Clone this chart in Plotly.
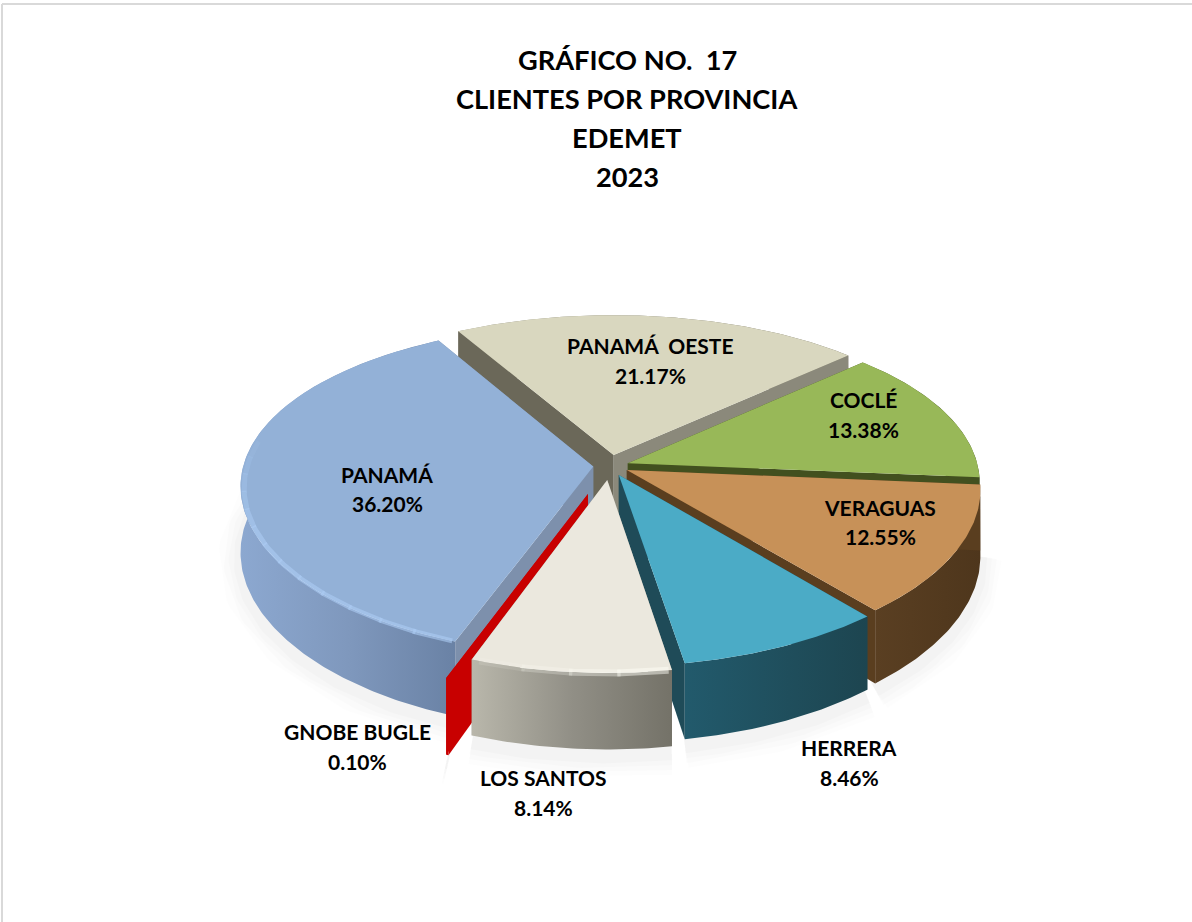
import math
import plotly.graph_objects as go

# ---- data ----
PROVINCIAS = ["PANAMÁ  OESTE", "COCLÉ", "VERAGUAS", "HERRERA", "LOS SANTOS", "GNOBE BUGLE", "PANAMÁ"]
PORCENTAJES = [21.17, 13.38, 12.55, 8.46, 8.14, 0.10, 36.20]
TITULO = ["GRÁFICO NO.  17", "CLIENTES POR PROVINCIA", "EDEMET", "2023"]

# ---- style ----
TOP = ["#D9D7BF", "#98B858", "#C79158", "#4BABC6", "#EBE8DE", "#C80000", "#93B1D7"]
FACE_START = ["#6B6859", "#42501F", "#5A3E1F", "#1F4B58", "#8F8D83", "#C80000", "#7D90AC"]
FACE_END = ["#8B897B", "#42501F", "#5A3E1F", "#1F4B58", "#8F8D83", "#C80000", "#7D90AC"]
WALL = [
    ["#8B897B", "#6B6859"],
    ["#42501F", "#42501F"],
    ["#5A3F22", "#4E361C"],
    ["#225A6C", "#1D4550"],
    ["#B9B7AB", "#918F86", "#747268"],
    ["#C80000", "#C80000"],
    ["#8CA8D0", "#7F98BD", "#6A82A5"],
]
WALL_FIRST = [True, True, True, False, False, True, False]
RIM = [None, None, None, None, (255, 254, 246), None, (172, 204, 244)]
RIM_SPAN = [None, None, None, None, (171, 199), None, (201, 280)]
RIM_WIDTH = [0, 0, 0, 0, 7, 0, 5]
EXPLODE = [0.07, 0.054, 0.054, 0.06, 0.085, 0.18, 0.048]
DRAW_ORDER = [0, 1, 2, 6, 3, 5, 4]
START_ANGLE = 330.6
CX, CY, RX, RY, PERSP_X, PERSP_Y, DEPTH = 610.0, 466.0, 350.0, 162.0, 0.115, 0.139, 65.0
LABEL_POS = [(650, 345, 375), (863, 399, 429), (880, 507, 536), (849, 747, 777),
             (543, 777, 807), (357, 731, 761), (387, 474, 503)]
TITLE_POS = [(627, 59), (627, 98), (627, 137), (627, 176)]
FONT = "Lato"


def project(X, Y, drop=0.0):
    sx = 1.0 / (1.0 + PERSP_X * Y)
    sy = 1.0 / (1.0 + PERSP_Y * Y)
    return CX + RX * X * sx, CY - RY * Y * sy + drop * sy


def rim_point(a, ex, ey, r=1.0):
    t = math.radians(a)
    return ex + r * math.sin(t), ey + r * math.cos(t)


def arc(a0, a1, ex, ey, drop=0.0, r=1.0):
    n = max(2, int(abs(a1 - a0) * 1.5))
    pts = [project(*rim_point(a0 + (a1 - a0) * i / n, ex, ey, r), drop) for i in range(n + 1)]
    return [p[0] for p in pts], [p[1] for p in pts]


fig = go.Figure()


def poly(xs, ys, fill=None, grad=None):
    kw = dict(x=xs + xs[:1], y=ys + ys[:1], mode="lines", line=dict(width=0), fill="toself",
              hoverinfo="skip", showlegend=False)
    if grad:
        step = 1.0 / (len(grad) - 1)
        kw["fillgradient"] = dict(type="horizontal", colorscale=[[i * step, c] for i, c in enumerate(grad)])
    else:
        kw["fillcolor"] = fill
    fig.add_trace(go.Scatter(**kw))


def stroke(xs, ys, color, width):
    fig.add_trace(go.Scatter(x=xs, y=ys, mode="lines", line=dict(color=color, width=width),
                             hoverinfo="skip", showlegend=False))


# slice angles from the values
spans = []
acc = START_ANGLE
for v in PORCENTAJES:
    spans.append((acc, acc + v * 3.6))
    acc += v * 3.6


def offsets(i):
    a0, a1 = spans[i]
    mid = math.radians((a0 + a1) / 2)
    return EXPLODE[i] * math.sin(mid), EXPLODE[i] * math.cos(mid)


# soft ground shadow
for w, al in ((44, 0.008), (34, 0.010), (24, 0.012), (14, 0.014)):
    for i in (6, 5, 4, 3, 2):
        ex, ey = offsets(i)
        xs, ys = arc(spans[i][0], spans[i][1], ex, ey, DEPTH + 6)
        stroke(xs, ys, f"rgba(0,0,0,{al})", w)

for i in DRAW_ORDER:
    a0, a1 = spans[i]
    ex, ey = offsets(i)
    tx, ty = project(ex, ey)
    tbx, tby = project(ex, ey, DEPTH)
    xt, yt = arc(a0, a1, ex, ey)
    xb, yb = arc(a0, a1, ex, ey, DEPTH)

    def faces():
        poly([tx, xt[0], xb[0], tbx], [ty, yt[0], yb[0], tby], fill=FACE_START[i])
        poly([tx, xt[-1], xb[-1], tbx], [ty, yt[-1], yb[-1], tby], fill=FACE_END[i])

    if not WALL_FIRST[i]:
        faces()
    poly(xt + xb[::-1], yt + yb[::-1], grad=WALL[i])
    if WALL_FIRST[i]:
        faces()
    # top
    poly([tx] + xt, [ty] + yt, fill=TOP[i])
    # bevel highlight, fading out towards the back of the pie
    if RIM[i]:
        sa, sb = RIM_SPAN[i]
        n = max(1, int((sb - sa) / 6))
        for k in range(n):
            s0 = sa + (sb - sa) * k / n
            s1 = sa + (sb - sa) * (k + 1) / n + 0.5
            fade = min(1.0, (sb - s0) / 35.0)
            rx_, ry_ = arc(s0, min(s1, sb), ex, ey, 2.0, 0.99)
            c = RIM[i]
            stroke(rx_, ry_, f"rgba({c[0]},{c[1]},{c[2]},{0.6 * fade:.2f})", RIM_WIDTH[i])

annotations = []
for name, val, (lx, y1, y2) in zip(PROVINCIAS, PORCENTAJES, LABEL_POS):
    for txt, yy in ((name, y1), (f"{val:.2f}%", y2)):
        annotations.append(dict(x=lx, y=yy, xref="x", yref="y", text=f"<b>{txt}</b>", showarrow=False,
                                xanchor="center", yanchor="middle",
                                font=dict(family=FONT, size=21, color="#000000")))
for txt, (tx_, ty_) in zip(TITULO, TITLE_POS):
    annotations.append(dict(x=tx_, y=ty_, xref="x", yref="y", text=f"<b>{txt}</b>", showarrow=False,
                            xanchor="center", yanchor="middle",
                            font=dict(family=FONT, size=27.2, color="#000000")))

fig.update_layout(
    width=1192, height=922, margin=dict(l=0, r=0, t=0, b=0),
    paper_bgcolor="#FFFFFF", plot_bgcolor="#FFFFFF", showlegend=False,
    xaxis=dict(range=[0, 1192], visible=False, fixedrange=True),
    yaxis=dict(range=[922, 0], visible=False, fixedrange=True),
    annotations=annotations,
    shapes=[
        dict(type="line", xref="x", yref="y", x0=2, x1=2, y0=4, y1=922, line=dict(color="#D9D9D9", width=2)),
        dict(type="line", xref="x", yref="y", x0=2, x1=1192, y0=4, y1=4, line=dict(color="#D9D9D9", width=2)),
    ],
)

fig.write_html("out.html", config={"displayModeBar": False},
               post_script="document.body.style.margin='0';document.body.style.overflow='hidden';")
